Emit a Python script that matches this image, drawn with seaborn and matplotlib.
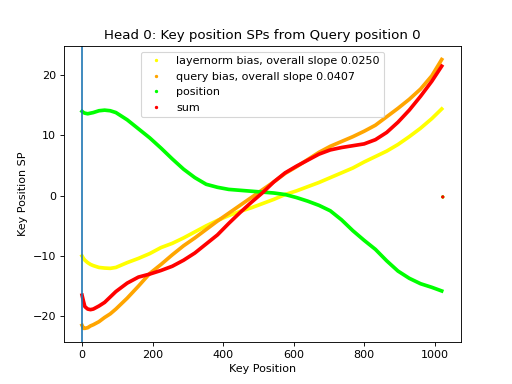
import numpy as np
import pandas as pd
import seaborn as sns
from matplotlib import pyplot as plt
from matplotlib.lines import Line2D

positions = [0, 4, 8, 16, 24, 32, 48, 64, 80, 96, 128, 160, 192, 224, 256, 288, 320,
             352, 384, 416, 448, 480, 512, 544, 576, 608, 640, 672, 704, 736, 768,
             800, 832, 864, 896, 928, 960, 992, 1020]

layernorm_sp = [-10.0, -10.4, -10.7, -11.1, -11.4, -11.6, -11.9, -12.0, -12.05, -11.9,
                -11.1, -10.4, -9.6, -8.6, -7.9, -7.0, -6.0, -5.0, -4.1, -3.3, -2.6,
                -2.0, -1.3, -0.6, 0.2, 0.8, 1.5, 2.2, 3.0, 3.8, 4.6, 5.6, 6.5, 7.4,
                8.5, 9.8, 11.2, 12.8, 14.4]
query_sp = [-21.5, -22.0, -22.0, -21.9, -21.6, -21.4, -20.9, -20.2, -19.6, -18.8,
            -17.0, -15.0, -12.9, -11.4, -9.8, -8.3, -7.0, -5.6, -4.2, -2.9, -1.6,
            -0.3, 1.0, 2.3, 3.7, 4.8, 6.0, 7.2, 8.2, 9.0, 9.8, 10.7, 11.7, 13.1,
            14.5, 16.0, 17.7, 19.9, 22.6]
position_sp = [14.0, 13.8, 13.7, 13.6, 13.7, 13.8, 14.1, 14.2, 14.1, 13.8, 12.6, 11.1,
               9.6, 7.9, 6.1, 4.4, 3.0, 1.9, 1.4, 1.05, 0.9, 0.75, 0.6, 0.45, 0.2,
               -0.3, -0.9, -1.6, -2.5, -4.0, -5.8, -7.4, -8.9, -10.8, -12.5, -13.7,
               -14.6, -15.2, -15.8]
sum_sp = [-16.5, -17.5, -18.4, -18.8, -18.9, -18.8, -18.3, -17.7, -16.8, -15.9, -14.5,
          -13.5, -13.0, -12.4, -11.7, -10.7, -9.5, -8.0, -6.5, -4.6, -2.8, -1.1, 0.5,
          2.3, 3.8, 4.9, 5.9, 6.9, 7.6, 8.0, 8.3, 8.6, 9.3, 10.5, 12.2, 14.2, 16.5,
          19.0, 21.5]

# the very last key position sits apart from the curves
last_pos = 1023
last_sp = [-0.2, -0.2, -0.2, -0.2]

labels = ["layernorm bias, overall slope 0.0250",
          "query bias, overall slope 0.0407",
          "position",
          "sum"]
colors = ["yellow", "orange", "lime", "red"]

series = [layernorm_sp, query_sp, position_sp, sum_sp]
df = pd.concat([pd.DataFrame({"pos": positions, "sp": s, "name": lab})
                for s, lab in zip(series, labels)])
last_df = pd.DataFrame({"pos": [last_pos] * 4, "sp": last_sp, "name": labels})

fig, ax = plt.subplots(figsize=(6.4, 4.8), dpi=80)
sns.lineplot(data=df, x="pos", y="sp", hue="name", palette=colors, linewidth=3.3,
             legend=False, sort=False, ax=ax)
sns.scatterplot(data=last_df, x="pos", y="sp", hue="name", palette=colors, s=8,
                linewidth=0, legend=False, ax=ax)
ax.axvline(0)

handles = [Line2D([], [], linestyle="", marker=".", markersize=4, color=c) for c in colors]
ax.legend(handles, labels, loc="upper center")

ax.set_title("Head 0: Key position SPs from Query position 0")
ax.set_xlabel("Key Position")
ax.set_ylabel("Key Position SP")
fig.savefig("out.png")
